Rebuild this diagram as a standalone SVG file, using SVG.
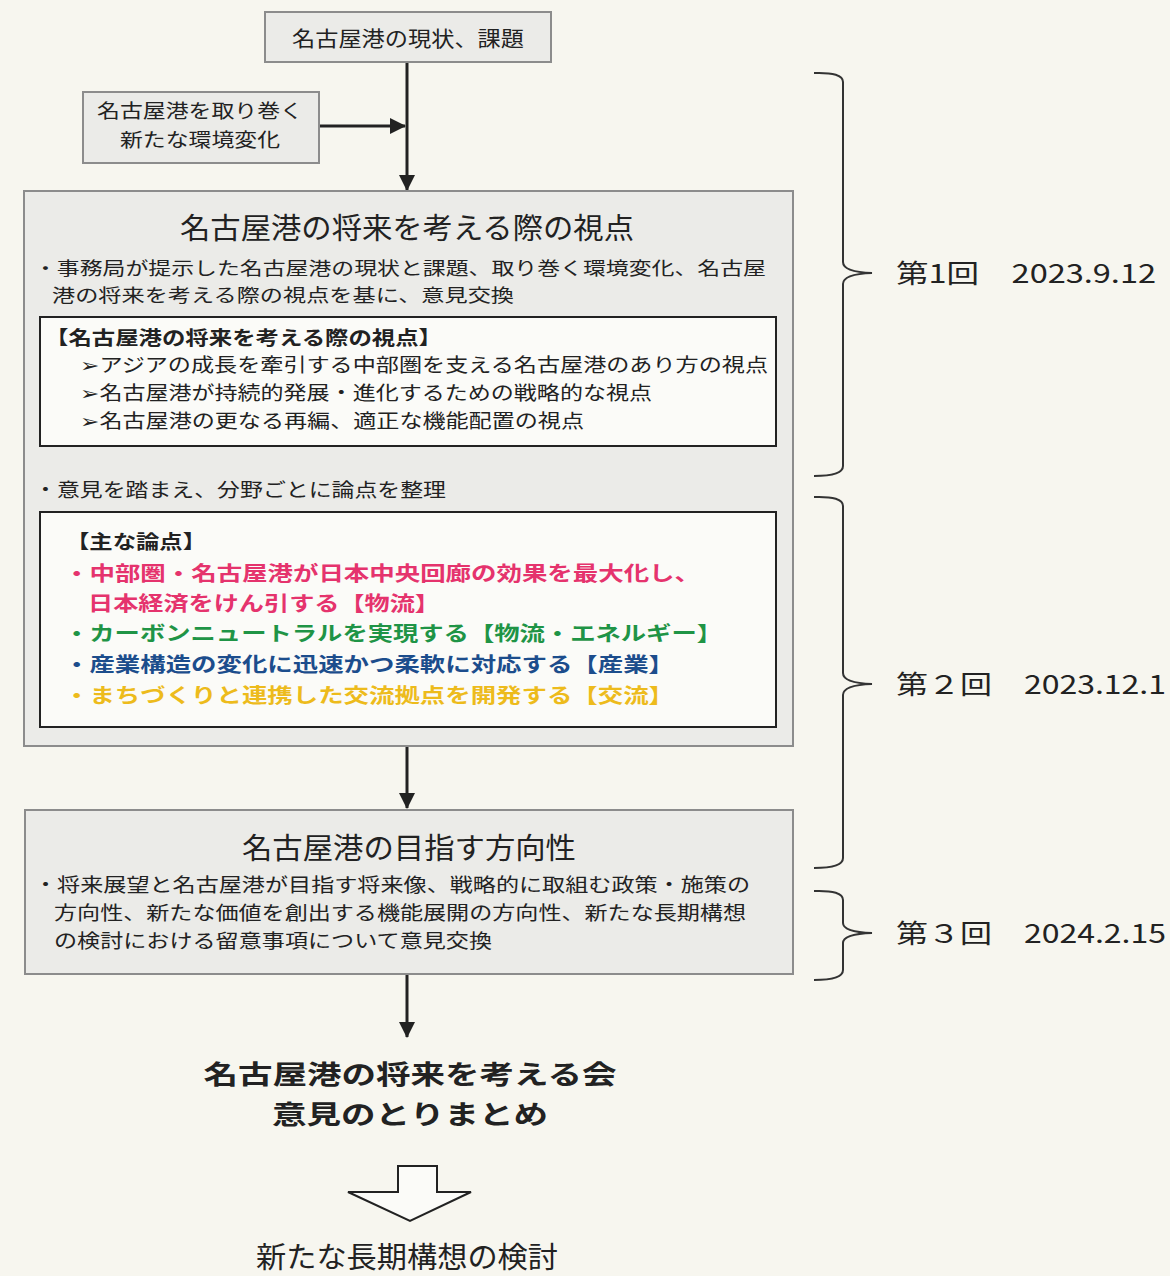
<svg xmlns="http://www.w3.org/2000/svg" width="1170" height="1276" viewBox="0 0 1170 1276">
<style>
text{font-family:"Noto Sans CJK JP","Noto Sans",sans-serif;fill:#222}
.gbox{fill:#ebebe8;stroke:#8c8c8c;stroke-width:2}
.wbox{fill:#fbfbf8;stroke:#222;stroke-width:2}
.t22{font-size:21px}
.s18{font-size:18px}
.s19{font-size:19px}
.t30{font-size:29px}
.b21{font-size:19px;font-weight:bold}
.b24{font-size:20px;font-weight:bold}
.b34{font-size:26.5px;font-weight:bold}
.line{stroke:#222;stroke-width:3;fill:none}
.brace{stroke:#333;stroke-width:2;fill:none}
.lbl{font-size:26px;font-family:"Noto Sans CJK JP","DejaVu Sans",sans-serif}
</style>
<defs>
<marker id="ah2" markerWidth="16" markerHeight="16" refX="15" refY="8" orient="auto" markerUnits="userSpaceOnUse" viewBox="0 0 16 16">
<path d="M0,0 L16,8 L0,16 z" fill="#222"/>
</marker>
</defs>
<rect width="1170" height="1276" fill="#f7f6ef"/>

<g id="connectors">
<line class="line" x1="407" y1="62" x2="407" y2="190" marker-end="url(#ah2)"/>
<line class="line" x1="319" y1="126" x2="405" y2="126" marker-end="url(#ah2)"/>
<line class="line" x1="407" y1="747" x2="407" y2="808" marker-end="url(#ah2)"/>
<line class="line" x1="407" y1="975" x2="407" y2="1037" marker-end="url(#ah2)"/>
<path id="hollow-arrow" d="M398,1166 L437,1166 L437,1192 L471,1192 L410,1221 L348,1192 L398,1192 Z" fill="#fbfbf8" stroke="#222" stroke-width="2"/>
</g>

<g id="node-genjo">
<rect class="gbox" x="265" y="12" width="286" height="50"/>
<text class="t22" x="408" y="46" text-anchor="middle" textLength="232" lengthAdjust="spacingAndGlyphs">名古屋港の現状、課題</text>
</g>

<g id="node-kankyo">
<rect class="gbox" x="83" y="92" width="236" height="71"/>
<text class="s19" x="200" y="118" text-anchor="middle" textLength="206" lengthAdjust="spacingAndGlyphs">名古屋港を取り巻く</text>
<text class="s19" x="200" y="147" text-anchor="middle" textLength="160" lengthAdjust="spacingAndGlyphs">新たな環境変化</text>
</g>

<g id="node-shiten">
<rect class="gbox" x="24" y="191" width="769" height="555"/>
<text class="t30" x="407" y="239" text-anchor="middle" textLength="454" lengthAdjust="spacingAndGlyphs">名古屋港の将来を考える際の視点</text>
<text class="s18" x="34" y="275" textLength="732" lengthAdjust="spacingAndGlyphs">・事務局が提示した名古屋港の現状と課題、取り巻く環境変化、名古屋</text>
<text class="s18" x="52" y="302" textLength="462" lengthAdjust="spacingAndGlyphs">港の将来を考える際の視点を基に、意見交換</text>
<rect class="wbox" x="40" y="317" width="736" height="129"/>
<text class="b21" x="45" y="345" textLength="397" lengthAdjust="spacingAndGlyphs">【名古屋港の将来を考える際の視点】</text>
<text class="s19" x="80" y="372" textLength="688" lengthAdjust="spacingAndGlyphs">➢アジアの成長を牽引する中部圏を支える名古屋港のあり方の視点</text>
<text class="s19" x="80" y="400" textLength="572" lengthAdjust="spacingAndGlyphs">➢名古屋港が持続的発展・進化するための戦略的な視点</text>
<text class="s19" x="80" y="428" textLength="504" lengthAdjust="spacingAndGlyphs">➢名古屋港の更なる再編、適正な機能配置の視点</text>
<text class="s19" x="34" y="497" textLength="412" lengthAdjust="spacingAndGlyphs">・意見を踏まえ、分野ごとに論点を整理</text>
<rect class="wbox" x="40" y="512" width="736" height="215"/>
<text class="b21" x="66" y="549" textLength="140" lengthAdjust="spacingAndGlyphs">【主な論点】</text>
<text class="b24" x="64" y="581" style="fill:#e5336d" textLength="636" lengthAdjust="spacingAndGlyphs">・中部圏・名古屋港が日本中央回廊の効果を最大化し、</text>
<text class="b24" x="88" y="611" style="fill:#e5336d" textLength="352" lengthAdjust="spacingAndGlyphs">日本経済をけん引する【物流】</text>
<text class="b24" x="64" y="641" style="fill:#1f9446" textLength="658" lengthAdjust="spacingAndGlyphs">・カーボンニュートラルを実現する【物流・エネルギー】</text>
<text class="b24" x="64" y="672" style="fill:#1c4d8c" textLength="610" lengthAdjust="spacingAndGlyphs">・産業構造の変化に迅速かつ柔軟に対応する【産業】</text>
<text class="b24" x="64" y="703" style="fill:#edbb1c" textLength="610" lengthAdjust="spacingAndGlyphs">・まちづくりと連携した交流拠点を開発する【交流】</text>
</g>

<g id="node-hoko">
<rect class="gbox" x="25" y="810" width="768" height="164"/>
<text class="t30" x="409" y="859" text-anchor="middle" textLength="334" lengthAdjust="spacingAndGlyphs">名古屋港の目指す方向性</text>
<text class="s19" x="34" y="892" textLength="716" lengthAdjust="spacingAndGlyphs">・将来展望と名古屋港が目指す将来像、戦略的に取組む政策・施策の</text>
<text class="s19" x="54" y="920" textLength="692" lengthAdjust="spacingAndGlyphs">方向性、新たな価値を創出する機能展開の方向性、新たな長期構想</text>
<text class="s19" x="54" y="948" textLength="438" lengthAdjust="spacingAndGlyphs">の検討における留意事項について意見交換</text>
</g>

<g id="node-matome">
<text class="b34" x="410" y="1084" text-anchor="middle" textLength="413" lengthAdjust="spacingAndGlyphs">名古屋港の将来を考える会</text>
<text class="b34" x="410" y="1124" text-anchor="middle" textLength="276" lengthAdjust="spacingAndGlyphs">意見のとりまとめ</text>
</g>

<g id="node-kento">
<text class="t30" x="407" y="1268" text-anchor="middle" textLength="302" lengthAdjust="spacingAndGlyphs">新たな長期構想の検討</text>
</g>

<g id="brace-1">
<path class="brace" d="M814,73 Q843,72 843,82 L843,262 Q843,272 872,273 Q843,274 843,284 L843,466 Q843,476 814,476"/>
<text class="lbl" x="896" y="283" textLength="260" lengthAdjust="spacingAndGlyphs">第1回　2023.9.12</text>
</g>
<g id="brace-2">
<path class="brace" d="M814,497 Q843,496 843,506 L843,673 Q843,683 872,684 Q843,685 843,695 L843,858 Q843,868 814,868"/>
<text class="lbl" x="896" y="694" textLength="270" lengthAdjust="spacingAndGlyphs">第２回　2023.12.1</text>
</g>
<g id="brace-3">
<path class="brace" d="M814,891 Q843,890 843,900 L843,923 Q843,932 872,933 Q843,934 843,943 L843,970 Q843,980 814,980"/>
<text class="lbl" x="896" y="943" textLength="270" lengthAdjust="spacingAndGlyphs">第３回　2024.2.15</text>
</g>
</svg>
